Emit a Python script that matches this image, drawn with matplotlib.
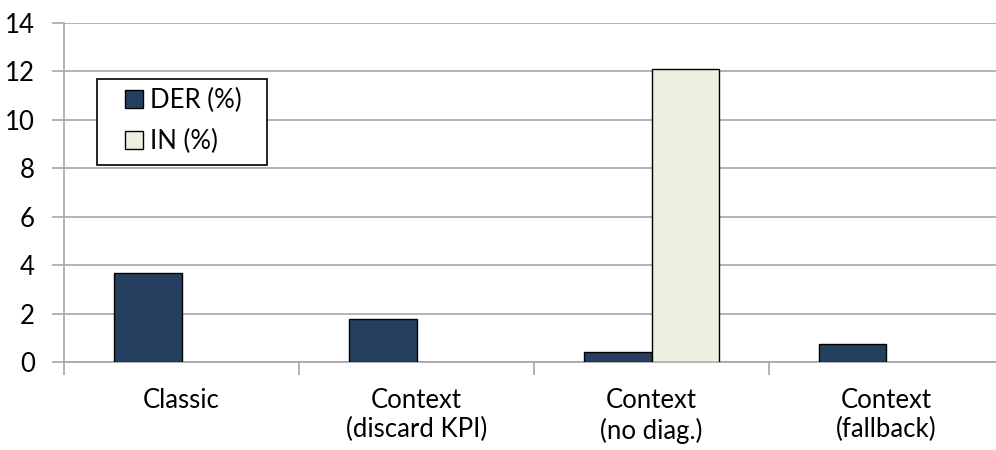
import numpy as np
import matplotlib
matplotlib.use("Agg")
import matplotlib.pyplot as plt
from matplotlib.patches import Rectangle

categories = ["Classic", "Context\n(discard KPI)", "Context\n(no diag.)", "Context\n(fallback)"]
der = [3.69, 1.76, 0.40, 0.73]
inn = [0, 0, 12.09, 0]

plt.rcParams['font.family'] = ['Lato', 'DejaVu Sans']
fs = 18.5

fig = plt.figure(figsize=(9.96, 4.5), dpi=100)
ax = fig.add_axes([64/996, 1-362/450, 940/996, 339/450])

x = np.arange(len(categories))
w = 0.288
ax.bar(x - w/2, der, w, color="#243F60", edgecolor="black",
       linewidth=[1 if v > 0 else 0 for v in der], label="DER (%)", zorder=3)
ax.bar(x + w/2, inn, w, color="#EBF0DF", edgecolor="black",
       linewidth=[1 if v > 0 else 0 for v in inn], label="IN (%)", zorder=3)

ax.set_xlim(-0.5, 3.5)
ax.set_ylim(0, 14)
ax.set_yticks(range(0, 15, 2))
ax.yaxis.grid(True, color="#A6A6A6", linewidth=1.2, zorder=0)

ax.set_xticks(np.arange(-0.5, 3.6, 1.0))
ax.set_xticklabels([])
ax.set_xticks(x, minor=True)
ax.set_xticklabels(categories, minor=True, fontsize=fs, linespacing=1.2)
ax.tick_params(axis="x", which="minor", length=0, pad=19)
ax.tick_params(axis="x", which="major", length=9, color="#A6A6A6", width=1.2)
ax.tick_params(axis="y", length=9, color="#A6A6A6", width=1.2, labelsize=fs, pad=12)

for s in ["top", "right"]:
    ax.spines[s].set_visible(False)
for s in ["left", "bottom"]:
    ax.spines[s].set_color("#A6A6A6")
    ax.spines[s].set_linewidth(1.2)

# legend box drawn separately so its padding matches
box = Rectangle((0.0351, 0.581), 0.181, 0.254, transform=ax.transAxes,
                facecolor="white", edgecolor="black", linewidth=1.2, zorder=4)
ax.add_patch(box)
leg = ax.legend(loc="upper left", bbox_to_anchor=(0.0649, 0.808), borderaxespad=0,
                borderpad=0, frameon=False, fontsize=fs,
                handlelength=0.7, handleheight=0.7, handletextpad=0.27,
                labelspacing=0.6)
leg.set_zorder(5)
for h in leg.legend_handles:
    h.set_linewidth(1)
    h.set_edgecolor("black")

fig.savefig("out.png", dpi=100)
